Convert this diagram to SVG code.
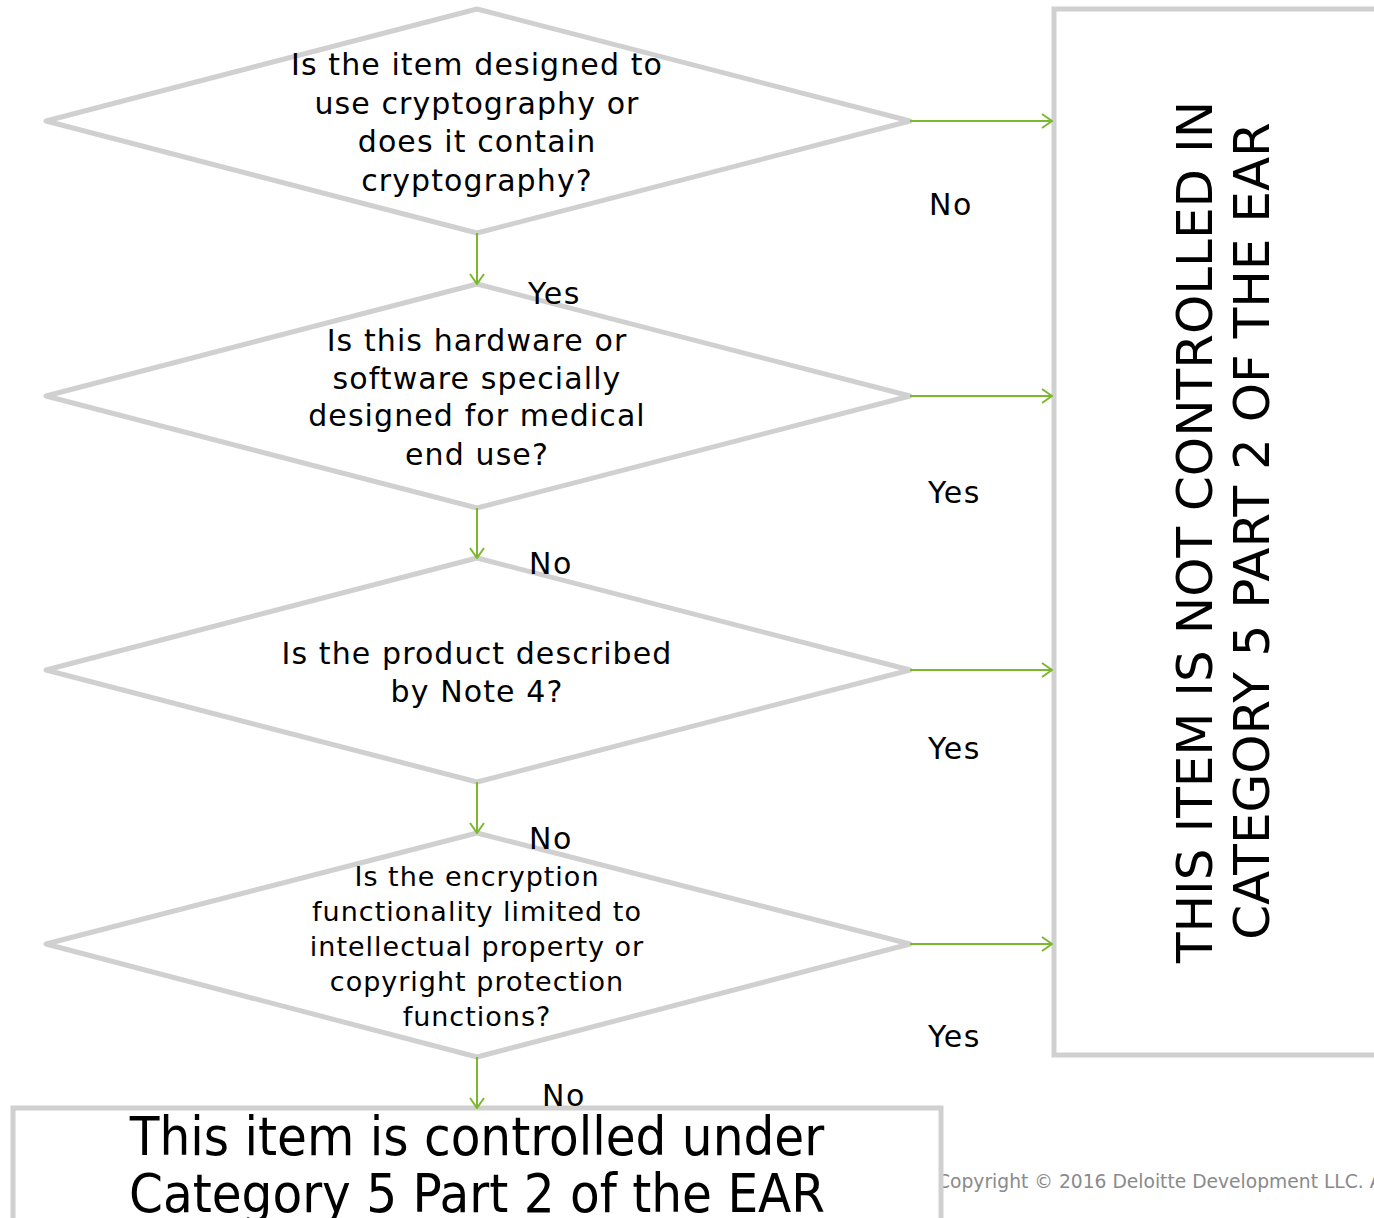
<svg xmlns="http://www.w3.org/2000/svg" width="1374" height="1218" viewBox="0 0 1374 1218">
<defs>
<style>
.shape{fill:#fff;stroke:#d0d0d0;stroke-width:5;stroke-linejoin:round}
.box{fill:#fff;stroke:#d0d0d0;stroke-width:5}
.t{font-family:"DejaVu Sans","Verdana",sans-serif;fill:#000;text-anchor:middle}
.q{font-size:30px;letter-spacing:1.1px}
.q4{font-size:27px;letter-spacing:1px}
.lab{font-family:"DejaVu Sans","Verdana",sans-serif;font-size:30px;letter-spacing:1.5px;fill:#000}
.big{font-family:"DejaVu Sans Condensed","DejaVu Sans",sans-serif;font-stretch:condensed;font-size:54px;fill:#000;text-anchor:middle}
.conn{stroke:#7cb82f;stroke-width:2;fill:none}
</style>
<marker id="ah" viewBox="0 0 12 16" refX="11" refY="8" markerWidth="12" markerHeight="16" markerUnits="userSpaceOnUse" orient="auto">
<path d="M1,1 L11,8 L1,15" fill="none" stroke="#7cb82f" stroke-width="2"/>
</marker>
</defs>
<rect width="1374" height="1218" fill="#fff"/>
<text x="937" y="1188" font-family="DejaVu Sans, Verdana, sans-serif" font-size="18.7" fill="#8a8a8a">Copyright © 2016 Deloitte Development LLC. A</text>
<g id="node-q1">
<polygon class="shape" points="477,9 910,121 477,233 46,121"/>
<text class="t q" x="477" y="75">Is the item designed to</text>
<text class="t q" x="477" y="114">use cryptography or</text>
<text class="t q" x="477" y="152">does it contain</text>
<text class="t q" x="477" y="191">cryptography?</text>
</g>
<g id="node-q2">
<polygon class="shape" points="477,284 910,396 477,508 46,396"/>
<text class="t q" x="477" y="351">Is this hardware or</text>
<text class="t q" x="477" y="389">software specially</text>
<text class="t q" x="477" y="426">designed for medical</text>
<text class="t q" x="477" y="465">end use?</text>
</g>
<g id="node-q3">
<polygon class="shape" points="477,558 910,670 477,782 46,670"/>
<text class="t q" x="477" y="664">Is the product described</text>
<text class="t q" x="477" y="702">by Note 4?</text>
</g>
<g id="node-q4">
<polygon class="shape" points="477,833 910,944 477,1057 46,944"/>
<text class="t q4" x="477" y="886">Is the encryption</text>
<text class="t q4" x="477" y="921">functionality limited to</text>
<text class="t q4" x="477" y="956">intellectual property or</text>
<text class="t q4" x="477" y="991">copyright protection</text>
<text class="t q4" x="477" y="1026">functions?</text>
</g>
<g id="node-not-controlled">
<rect class="box" x="1054" y="9" width="340" height="1046"/>
<text class="t" font-size="50" transform="translate(1212,532) rotate(-90)">THIS ITEM IS NOT CONTROLLED IN</text>
<text class="t" font-size="50" transform="translate(1269,531) rotate(-90)">CATEGORY 5 PART 2 OF THE EAR</text>
</g>
<g id="node-controlled">
<rect class="box" x="13" y="1108" width="928" height="130"/>
<text class="big" x="477" y="1155">This item is controlled under</text>
<text class="big" x="477" y="1212">Category 5 Part 2 of the EAR</text>
</g>
<g id="connectors">
<line class="conn" x1="477" y1="233" x2="477" y2="284" marker-end="url(#ah)"/>
<line class="conn" x1="477" y1="508" x2="477" y2="558" marker-end="url(#ah)"/>
<line class="conn" x1="477" y1="782" x2="477" y2="833" marker-end="url(#ah)"/>
<line class="conn" x1="477" y1="1057" x2="477" y2="1108" marker-end="url(#ah)"/>
<line class="conn" x1="910" y1="121" x2="1052" y2="121" marker-end="url(#ah)"/>
<line class="conn" x1="910" y1="396" x2="1052" y2="396" marker-end="url(#ah)"/>
<line class="conn" x1="910" y1="670" x2="1052" y2="670" marker-end="url(#ah)"/>
<line class="conn" x1="910" y1="944" x2="1052" y2="944" marker-end="url(#ah)"/>
<text class="lab" x="528" y="304">Yes</text>
<text class="lab" x="529" y="574">No</text>
<text class="lab" x="529" y="849">No</text>
<text class="lab" x="542" y="1106">No</text>
<text class="lab" x="929" y="215">No</text>
<text class="lab" x="928" y="503">Yes</text>
<text class="lab" x="928" y="759">Yes</text>
<text class="lab" x="928" y="1047">Yes</text>
</g>
</svg>
